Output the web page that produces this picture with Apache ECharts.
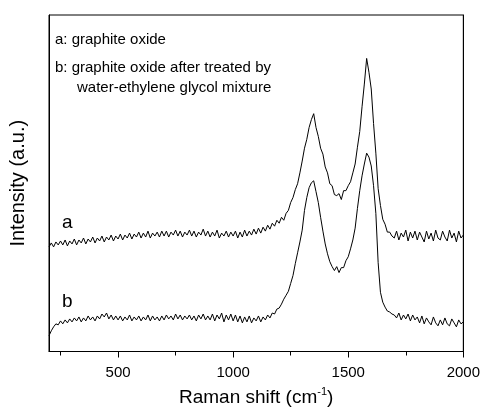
<!DOCTYPE html>
<html>
<head>
<meta charset="utf-8">
<script src="https://cdn.jsdelivr.net/npm/echarts@6/dist/echarts.min.js"></script>
<style>
  html, body { margin: 0; padding: 0; background: #fff; }
  #chart { width: 483px; height: 412px; }
</style>
</head>
<body>
<div id="chart"></div>
<script>
// Raman shift grid (cm-1)
const ramanShift = [
  200,210,220,230,240,250,260,270,280,290,
  300,310,320,330,340,350,360,370,380,390,
  400,410,420,430,440,450,460,470,480,490,
  500,510,520,530,540,550,560,570,580,590,
  600,610,620,630,640,650,660,670,680,690,
  700,710,720,730,740,750,760,770,780,790,
  800,810,820,830,840,850,860,870,880,890,
  900,910,920,930,940,950,960,970,980,990,
  1000,1010,1020,1030,1040,1050,1060,1070,1080,1090,
  1100,1110,1120,1130,1140,1150,1160,1170,1180,1190,
  1200,1210,1220,1230,1240,1250,1260,1270,1280,1290,
  1300,1310,1320,1330,1340,1350,1360,1370,1380,1390,
  1400,1410,1420,1430,1440,1450,1460,1470,1480,1490,
  1500,1510,1520,1530,1540,1550,1560,1570,1580,1590,
  1600,1610,1620,1630,1640,1650,1660,1670,1680,1690,
  1700,1710,1720,1730,1740,1750,1760,1770,1780,1790,
  1800,1810,1820,1830,1840,1850,1860,1870,1880,1890,
  1900,1910,1920,1930,1940,1950,1960,1970,1980,1990,
  2000
];

// a: graphite oxide (arbitrary units, offset upward)
const graphiteOxide = [
  106,110,106,111,108,112,108,113,107,112,
  109,114,108,113,110,115,109,114,111,116,
  110,115,112,117,111,116,113,118,112,117,
  114,119,113,118,115,120,114,119,116,121,
  115,120,116,122,115,120,117,121,116,122,
  117,122,116,121,118,123,117,122,116,121,
  118,123,117,122,116,121,118,124,117,122,
  116,121,117,123,115,120,117,122,116,121,
  117,122,115,121,116,123,117,122,118,124,
  119,125,120,126,122,128,124,130,127,133,
  130,136,133,140,143,151,156,164,170,181,
  193,206,215,227,235,241,227,218,206,200,
  187,181,170,168,159,158,160,154,163,163,
  168,172,181,190,207,223,248,271,297,283,
  266,231,201,165,148,134,129,121,121,117,
  115,122,113,120,116,123,112,121,115,122,
  113,121,116,111,122,114,120,112,123,115,
  113,122,116,112,123,115,120,111,122,115,
  118
];

// b: graphite oxide after treated by water-ethylene glycol mixture
const treatedOxide = [
  16,21,25,28,27,31,28,32,29,33,
  30,34,31,35,30,34,31,36,32,35,
  31,36,33,38,35,39,33,37,32,36,
  32,36,31,35,32,37,31,35,32,36,
  31,35,32,37,31,36,32,35,31,36,
  32,37,33,36,32,38,33,37,32,36,
  33,37,32,36,31,37,33,38,32,36,
  32,38,31,37,33,39,30,37,32,38,
  31,37,30,36,29,35,30,36,29,34,
  31,36,30,35,32,37,34,39,38,43,
  44,48,53,57,61,69,77,89,100,111,
  123,143,156,166,171,173,162,151,136,122,
  109,99,91,86,82,86,80,85,85,92,
  96,104,113,125,145,163,178,190,201,197,
  188,168,140,90,60,50,45,41,40,38,
  37,34,39,32,37,33,38,31,37,32,
  35,29,36,28,34,30,27,35,29,26,
  32,27,34,28,26,33,29,25,32,28,
  30
];

const majorTicks = [500, 1000, 1500, 2000];
const minorTicks = [250, 750, 1250, 1750];

const font = '"Liberation Sans", Arial, sans-serif';

let chart = echarts.init(document.getElementById('chart'));

function pairs(ys) {
  return ramanShift.map((x, i) => [x, ys[i]]);
}

let option = {
  animation: false,
  backgroundColor: '#fff',
  grid: {
    left: 47, right: 18, top: 15, bottom: 56,
    show: true,
    borderColor: '#000',
    borderWidth: 1
  },
  xAxis: [
    {
      type: 'value',
      min: 200,
      max: 2000,
      name: '{n|Raman shift (cm}{s|-1}{n|)}',
      nameLocation: 'middle',
      nameGap: 35,
      nameTextStyle: {
        rich: {
          n: { fontFamily: font, fontSize: 19, color: '#000', lineHeight: 22 },
          s: { fontFamily: font, fontSize: 11, color: '#000', verticalAlign: 'top', lineHeight: 12 }
        }
      },
      axisLine: { show: true, lineStyle: { color: '#000', width: 1 } },
      axisTick: { show: true, customValues: majorTicks, length: 6, inside: false, lineStyle: { color: '#000' } },
      axisLabel: {
        show: true, customValues: majorTicks, margin: 14,
        fontFamily: font, fontSize: 15, color: '#000',
        formatter: function (v) { return String(v); }
      },
      splitLine: { show: false }
    },
    {
      type: 'value',
      min: 200,
      max: 2000,
      position: 'bottom',
      offset: 0,
      axisLine: { show: false },
      axisTick: { show: true, customValues: minorTicks, length: 4, inside: false, lineStyle: { color: '#000' } },
      axisLabel: { show: false },
      splitLine: { show: false }
    }
  ],
  yAxis: [
    {
      type: 'value',
      min: 0,
      max: 341,
      name: 'Intensity (a.u.)',
      nameLocation: 'middle',
      nameRotate: 90,
      nameGap: 21,
      nameTextStyle: { fontFamily: font, fontSize: 20, color: '#000' },
      axisLine: { show: true, lineStyle: { color: '#000', width: 1 } },
      axisTick: { show: false },
      axisLabel: { show: false },
      splitLine: { show: false }
    },
    {
      type: 'value',
      min: 0,
      max: 341,
      position: 'right',
      axisLine: { show: true, lineStyle: { color: '#000', width: 1 } },
      axisTick: { show: false },
      axisLabel: { show: false },
      splitLine: { show: false }
    }
  ],
  graphic: [
    { type: 'text', x: 55, y: 40, style: { text: 'a: graphite oxide', font: '15px ' + font, fill: '#000', textVerticalAlign: 'middle' } },
    { type: 'text', x: 55, y: 68, style: { text: 'b: graphite oxide after treated by', font: '15px ' + font, fill: '#000', textVerticalAlign: 'middle' } },
    { type: 'text', x: 77, y: 88, style: { text: 'water-ethylene glycol mixture', font: '15px ' + font, fill: '#000', textVerticalAlign: 'middle' } },
    { type: 'text', x: 62, y: 223, style: { text: 'a', font: '19px ' + font, fill: '#000', textVerticalAlign: 'middle' } },
    { type: 'text', x: 62, y: 302, style: { text: 'b', font: '19px ' + font, fill: '#000', textVerticalAlign: 'middle' } }
  ],
  series: [
    {
      name: 'a',
      type: 'line',
      xAxisIndex: 0,
      yAxisIndex: 0,
      showSymbol: false,
      lineStyle: { color: '#000', width: 1 },
      data: pairs(graphiteOxide)
    },
    {
      name: 'b',
      type: 'line',
      xAxisIndex: 0,
      yAxisIndex: 0,
      showSymbol: false,
      lineStyle: { color: '#000', width: 1 },
      data: pairs(treatedOxide)
    }
  ]
};
chart.setOption(option);
</script>
</body>
</html>
